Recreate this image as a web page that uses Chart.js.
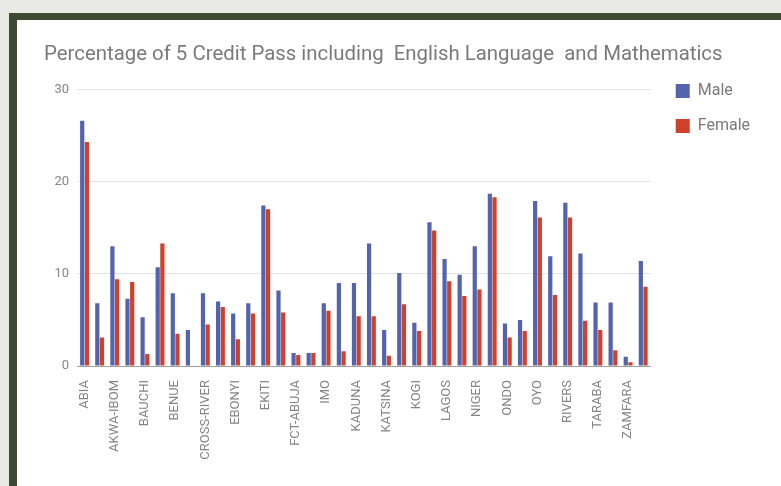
<!DOCTYPE html>
<html><head><meta charset="utf-8">
<script src="https://cdn.jsdelivr.net/npm/chart.js@4.4.1/dist/chart.umd.min.js"></script>
<style>
html,body{margin:0;padding:0;width:781px;height:486px;overflow:hidden;background:#e9e9e5;}
#frame{position:absolute;left:9px;top:13px;width:772px;height:473px;background:#3e4a32;}
#inner{position:absolute;left:17px;top:20px;width:764px;height:466px;background:#fff;}
#inner canvas{display:block}
</style></head><body>
<div id="frame"></div>
<div id="inner"><canvas id="c" width="764" height="466"></canvas></div>
<script>
const states = ['ABIA','ADAMAWA','AKWA-IBOM','ANAMBRA','BAUCHI','BAYELSA','BENUE','BORNO','CROSS-RIVER','DELTA','EBONYI','EDO','EKITI','ENUGU','FCT-ABUJA','GOMBE','IMO','JIGAWA','KADUNA','KANO','KATSINA','KEBBI','KOGI','KWARA','LAGOS','NASARAWA','NIGER','OGUN','ONDO','OSUN','OYO','PLATEAU','RIVERS','SOKOTO','TARABA','YOBE','ZAMFARA','NATIONAL'];
const male = [26.6, 6.8, 13.0, 7.3, 5.3, 10.7, 7.9, 3.9, 7.9, 7.0, 5.7, 6.8, 17.4, 8.2, 1.4, 1.4, 6.8, 9.0, 9.0, 13.3, 3.9, 10.1, 4.7, 15.6, 11.6, 9.9, 13.0, 18.7, 4.6, 5.0, 17.9, 11.9, 17.7, 12.2, 6.9, 6.9, 1.0, 11.4];
const female = [24.3, 3.1, 9.4, 9.1, 1.3, 13.3, 3.5, 0, 4.5, 6.4, 2.9, 5.7, 17.0, 5.8, 1.2, 1.4, 6.0, 1.6, 5.4, 5.4, 1.1, 6.7, 3.8, 14.7, 9.2, 7.6, 8.3, 18.3, 3.1, 3.8, 16.1, 7.7, 16.1, 4.9, 3.9, 1.7, 0.4, 8.6];
const seriesNames = ['Male','Female'];
const yTickValues = [0, 10, 20, 30];
const titleText = 'Percentage of 5 Credit Pass including  English Language  and Mathematics';

const grey = '#858585';
new Chart(document.getElementById('c'), {
  type: 'bar',
  data: {
    labels: states,
    datasets: [
      {label: seriesNames[0], data: male, backgroundColor: '#5463ad', borderWidth: 0},
      {label: seriesNames[1], data: female, backgroundColor: '#d1402b', borderWidth: 0}
    ]
  },
  options: {
    responsive: false,
    animation: false,
    devicePixelRatio: 1,
    layout: {padding: {left: 27, right: 21, top: 0, bottom: 0}},
    datasets: {bar: {categoryPercentage: 0.62, barPercentage: 0.9}},
    plugins: {
      title: {
        display: true, text: titleText, align: 'start',
        color: '#7a7a7a',
        font: {family: 'Roboto', size: 20.4, weight: 'normal'},
        padding: {top: 23, bottom: 0}
      },
      legend: {
        position: 'right', align: 'start',
        title: {display: true, text: ' ', font: {size: 10}, padding: {top: 32, bottom: 0}},
        labels: {
          boxWidth: 14, boxHeight: 14, padding: 19,
          color: '#7a7a7a',
          font: {family: 'Roboto', size: 16}
        }
      },
      tooltip: {enabled: false}
    },
    scales: {
      x: {
        grid: {display: false},
        border: {display: true, color: '#9e9e9e'},
        ticks: {
          autoSkip: false, minRotation: 90, maxRotation: 90,
          color: grey, padding: 6,
          font: {family: 'Roboto', size: 13},
          callback: function(v, i) { return i % 2 === 0 ? this.getLabelForValue(v) : ''; }
        },
        afterFit: s => { s.height = 120; }
      },
      x2: {
        type: 'category', position: 'top', display: true,
        grid: {display: false, drawTicks: false}, border: {display: false},
        ticks: {display: false},
        afterFit: s => { s.height = 22; }
      },
      y: {
        min: 0, max: 30,
        border: {display: false},
        grid: {color: '#e3e3e3', drawTicks: false},
        afterBuildTicks: s => { s.ticks = yTickValues.map(v => ({value: v})); },
        ticks: {color: grey, padding: 8, font: {family: 'Roboto', size: 13}},
        afterFit: s => { s.width = 33; }
      },
      y2: {
        position: 'right', display: true, min: 0, max: 30,
        grid: {display: false, drawTicks: false}, border: {display: false},
        ticks: {display: false},
        afterFit: s => { s.width = 6; }
      }
    }
  }
});
</script>
</body></html>
